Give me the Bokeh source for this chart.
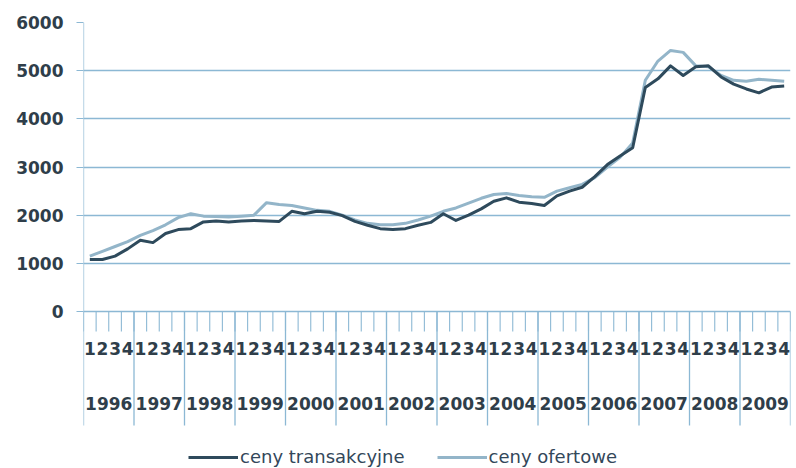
from bokeh.plotting import figure
from bokeh.models import Range1d, FixedTicker, Legend, LegendItem, ColumnDataSource
from bokeh.core.properties import value
from bokeh.embed import file_html
from bokeh.resources import INLINE

years = [str(y) for y in range(1996, 2010)]
quarters = ["1", "2", "3", "4"]
trans = [1080, 1080, 1150, 1300, 1480, 1430, 1620, 1700, 1720, 1860, 1880, 1860,
         1880, 1890, 1880, 1870, 2080, 2030, 2080, 2060, 1990, 1870, 1790, 1720,
         1700, 1720, 1790, 1850, 2030, 1890, 2000, 2130, 2290, 2360, 2270, 2240,
         2200, 2400, 2500, 2580, 2800, 3050, 3230, 3400, 4650, 4830, 5100, 4900,
         5080, 5100, 4870, 4720, 4620, 4540, 4660, 4680]
offer = [1150, 1250, 1350, 1450, 1580, 1680, 1800, 1950, 2030, 1980, 1970, 1960,
         1980, 2000, 2260, 2220, 2200, 2150, 2100, 2080, 2000, 1900, 1830, 1800,
         1800, 1830, 1900, 1980, 2080, 2150, 2250, 2350, 2430, 2450, 2410, 2380,
         2370, 2500, 2570, 2640, 2780, 3000, 3200, 3500, 4800, 5200, 5420, 5380,
         5100, 5080, 4900, 4800, 4780, 4820, 4800, 4780]
y_ticks = [0, 1000, 2000, 3000, 4000, 5000, 6000]
series_names = ["ceny transakcyjne", "ceny ofertowe"]

GRID = "#8cb8d4"
TXT = "#2f3e4a"
FONT = "DejaVu Sans"

n = len(years) * len(quarters)
W, H = 796, 468
left, right, top = 83, 6, 22
plot_h = 289  # pixels from 6000 to 0
ymax = 6000
upp = ymax / plot_h  # units per pixel
ymin = -(H - top - plot_h) * upp

p = figure(width=W, height=H, output_backend="svg", toolbar_location=None,
           x_range=Range1d(0, n), y_range=Range1d(ymin, ymax),
           min_border_left=left, min_border_right=right, min_border_top=top,
           min_border_bottom=0)
p.outline_line_color = None
p.background_fill_color = "white"
p.xaxis.visible = False
p.xgrid.visible = False
p.ygrid.ticker = FixedTicker(ticks=y_ticks)
p.ygrid.grid_line_color = GRID
p.ygrid.grid_line_width = 1.3
p.yaxis.ticker = FixedTicker(ticks=y_ticks)
p.yaxis.axis_line_color = None
p.yaxis.major_tick_line_color = GRID
p.yaxis.major_tick_out = 7
p.yaxis.major_tick_in = 0
p.yaxis.minor_tick_line_color = None
p.yaxis.major_label_standoff = 13
p.yaxis.major_label_text_font = FONT
p.yaxis.major_label_text_font_size = "17px"
p.yaxis.major_label_text_font_style = "bold"
p.yaxis.major_label_text_color = TXT

# vertical axis line
p.segment(x0=[0], y0=[0], x1=[0], y1=[ymax], line_color=GRID, line_width=1.3)

# quarter tick lines and year separators below the axis
qx = list(range(n + 1))
p.segment(x0=qx, y0=[0] * len(qx), x1=qx, y1=[-20 * upp] * len(qx),
          line_color=GRID, line_width=1.1)
yx = list(range(0, n + 1, 4))
p.segment(x0=yx, y0=[0] * len(yx), x1=yx, y1=[-114 * upp] * len(yx),
          line_color=GRID, line_width=1.3)

# category labels
qlab_x = [i + 0.5 for i in range(n)]
qlab = [quarters[i % 4] for i in range(n)]
p.text(x=qlab_x, y=[-37 * upp] * n, text=qlab, text_align="center",
       text_baseline="middle", text_font=value(FONT), text_font_size="17px",
       text_font_style="bold", text_color=TXT)
ylab_x = [4 * k + 2 for k in range(len(years))]
p.text(x=ylab_x, y=[-92 * upp] * len(years), text=years, text_align="center",
       text_baseline="middle", text_font=value(FONT), text_font_size="17px",
       text_font_style="bold", text_color=TXT)

xs = [i + 0.5 for i in range(n)]
src = ColumnDataSource(dict(x=xs, t=trans, o=offer))
r_o = p.line("x", "o", source=src, line_color="#93b5c9", line_width=3,
             line_join="round")
r_t = p.line("x", "t", source=src, line_color="#2e4a5c", line_width=3,
             line_join="round")

legend = Legend(items=[LegendItem(label=series_names[0], renderers=[r_t]),
                       LegendItem(label=series_names[1], renderers=[r_o])],
                orientation="horizontal", location=(105, 1),
                glyph_width=50, glyph_height=20, label_height=20,
                label_standoff=2, spacing=32, padding=0, margin=0,
                border_line_color=None, background_fill_alpha=0,
                label_text_font=FONT, label_text_font_size="18px",
                label_text_color="#33475a")
p.add_layout(legend, "center")

open("out.html", "w").write(file_html(p, INLINE))
